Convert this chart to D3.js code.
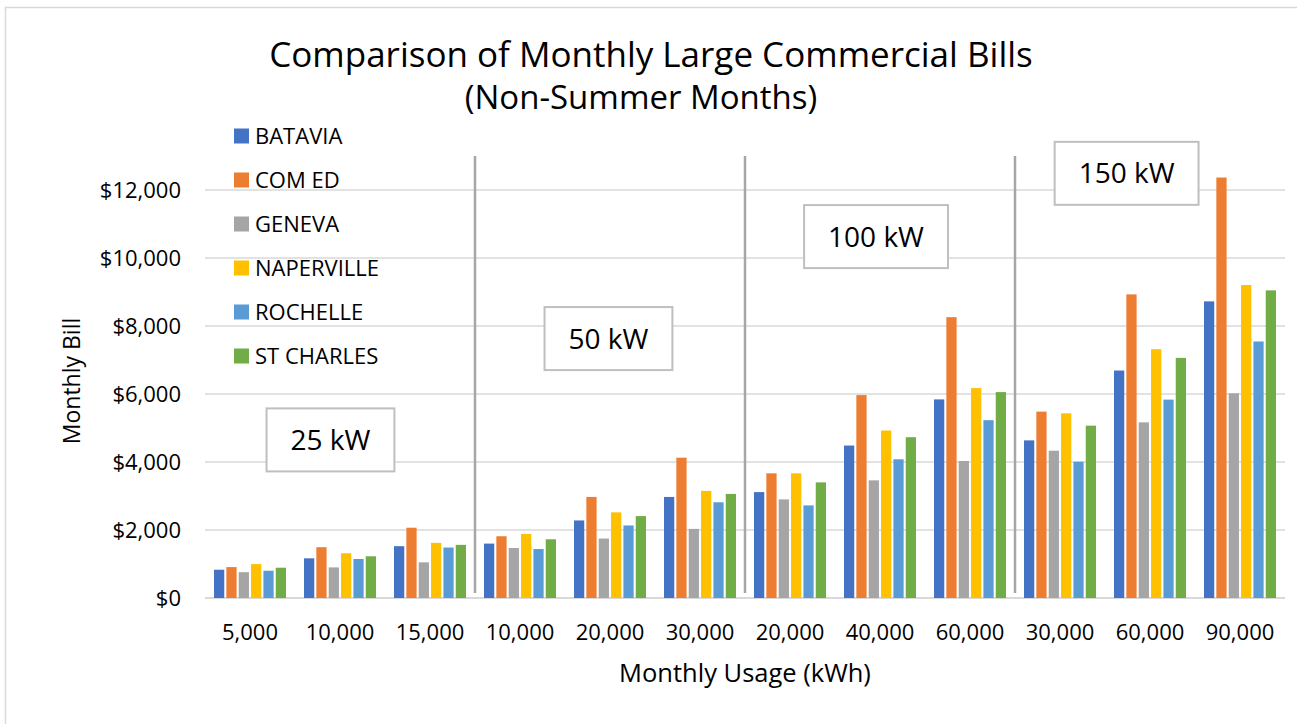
<!DOCTYPE html>
<html>
<head>
<meta charset="utf-8">
<script src="https://cdn.jsdelivr.net/npm/d3@7"></script>
<style>
  body { margin: 0; background: #fff; }
  svg { display: block; font-family: "Open Sans", sans-serif; }
</style>
</head>
<body>
<script>
// usage categories (kWh), grouped by demand
var usage = ["5,000", "10,000", "15,000", "10,000", "20,000", "30,000",
	"20,000", "40,000", "60,000", "30,000", "60,000", "90,000"];
var utilities = ["BATAVIA", "COM ED", "GENEVA", "NAPERVILLE", "ROCHELLE", "ST CHARLES"];
var colors = ["#4472C4", "#ED7D31", "#A5A5A5", "#FFC000", "#5B9BD5", "#70AD47"];

// monthly bill ($) per utility, one value per usage category
var batavia = [832, 1167, 1524, 1600, 2281, 2972, 3115, 4484, 5841, 4636, 6690, 8724];
var comEd = [909, 1494, 2067, 1816, 2972, 4127, 3667, 5968, 8260, 5482, 8930, 12367];
var geneva = [760, 900, 1049, 1470, 1748, 2033, 2900, 3460, 4030, 4332, 5166, 6021];
var naperville = [998, 1316, 1622, 1884, 2519, 3150, 3667, 4926, 6174, 5432, 7318, 9204];
var rochelle = [802, 1147, 1485, 1440, 2133, 2815, 2723, 4080, 5230, 4008, 5835, 7545];
var stCharles = [891, 1227, 1563, 1727, 2409, 3061, 3401, 4729, 6056, 5069, 7062, 9048];
var series = [batavia, comEd, geneva, naperville, rochelle, stCharles];

var yTicks = [0, 2000, 4000, 6000, 8000, 10000, 12000];
// group separators sit between these category indices
var separators = [3, 6, 9];
// demand labels: centre given as (category position, dollar value)
var demandLabels = [
	{ label: "25 kW", pos: 1.394, value: 4650 },
	{ label: "50 kW", pos: 4.483, value: 7630 },
	{ label: "100 kW", pos: 7.456, value: 10630 },
	{ label: "150 kW", pos: 10.24, value: 12490 }
];

var W = 1297, H = 724;
var margin = { top: 190, right: 12, bottom: 126, left: 205 };
var plotW = W - margin.left - margin.right,
	plotH = H - margin.top - margin.bottom;

var svg = d3.select("body").append("svg")
	.attr("width", W)
	.attr("height", H);

// chart border (only top & left are inside the picture)
svg.append("rect")
	.attr("x", 5.5).attr("y", 7.5)
	.attr("width", W + 20).attr("height", H + 20)
	.attr("fill", "none")
	.attr("stroke", "#d9d9d9")
	.attr("stroke-width", 1.5);

var g = svg.append("g")
	.attr("transform", "translate(" + margin.left + "," + margin.top + ")");

var x0 = d3.scaleBand()
	.domain(d3.range(usage.length))
	.range([0, plotW])
	.paddingInner(0.2)
	.paddingOuter(0.1);

var x1 = d3.scaleBand()
	.domain(d3.range(utilities.length))
	.range([0, x0.bandwidth()])
	.paddingInner(0.17);

var xPos = d3.scaleLinear().domain([0, usage.length]).range([0, plotW]);

var y = d3.scaleLinear().domain([0, 12000]).range([plotH, 0]);

// gridlines
g.selectAll(".grid")
	.data(yTicks)
	.enter().append("line")
	.attr("class", "grid")
	.attr("x1", 0).attr("x2", plotW)
	.attr("y1", function (d) { return y(d); })
	.attr("y2", function (d) { return y(d); })
	.attr("stroke", "#d9d9d9")
	.attr("stroke-width", function (d) { return d === 0 ? 2 : 1.5; });

// y axis labels
var yAxis = g.append("g")
	.call(d3.axisLeft(y)
		.tickValues(yTicks)
		.tickSize(0)
		.tickPadding(24)
		.tickFormat(function (d) { return "$" + d3.format(",")(d); }));
yAxis.select(".domain").remove();
yAxis.selectAll("text")
	.attr("font-size", 22)
	.attr("font-family", "Open Sans, sans-serif")
	.attr("fill", "#000");

// x axis labels
var xAxis = g.append("g")
	.attr("transform", "translate(0," + plotH + ")")
	.call(d3.axisBottom(x0)
		.tickSize(0)
		.tickPadding(26)
		.tickFormat(function (i) { return usage[i]; }));
xAxis.select(".domain").remove();
xAxis.selectAll("text")
	.attr("font-size", 22)
	.attr("font-family", "Open Sans, sans-serif")
	.attr("fill", "#000");

// bars
var groups = g.selectAll(".group")
	.data(usage)
	.enter().append("g")
	.attr("class", "group")
	.attr("transform", function (d, i) { return "translate(" + x0(i) + ",0)"; });

groups.selectAll("rect")
	.data(function (d, i) { return series.map(function (s, k) { return { k: k, v: s[i] }; }); })
	.enter().append("rect")
	.attr("x", function (d) { return x1(d.k); })
	.attr("width", x1.bandwidth())
	.attr("y", function (d) { return y(d.v); })
	.attr("height", function (d) { return plotH - y(d.v); })
	.attr("fill", function (d) { return colors[d.k]; });

// separators between demand groups
g.selectAll(".sep")
	.data(separators)
	.enter().append("line")
	.attr("class", "sep")
	.attr("x1", function (d) { return xPos(d); })
	.attr("x2", function (d) { return xPos(d); })
	.attr("y1", y(13000))
	.attr("y2", plotH - 5)
	.attr("stroke", "#a6a6a6")
	.attr("stroke-width", 2.5);

// demand label boxes
var boxes = g.selectAll(".demand")
	.data(demandLabels)
	.enter().append("g")
	.attr("class", "demand")
	.attr("transform", function (d) { return "translate(" + xPos(d.pos) + "," + y(d.value) + ")"; });

boxes.append("text")
	.attr("text-anchor", "middle")
	.attr("dy", "0.36em")
	.attr("font-size", 28)
	.text(function (d) { return d.label; });

boxes.insert("rect", "text")
	.attr("fill", "#fff")
	.attr("stroke", "#bfbfbf")
	.attr("stroke-width", 2)
	.each(function () {
		var t = d3.select(this.parentNode).select("text").node();
		var w = t.getComputedTextLength() + 48;
		d3.select(this)
			.attr("x", -w / 2).attr("y", -31.5)
			.attr("width", w).attr("height", 63);
	});

// legend
var legend = svg.append("g")
	.attr("transform", "translate(234,136)");

var item = legend.selectAll(".item")
	.data(utilities)
	.enter().append("g")
	.attr("class", "item")
	.attr("transform", function (d, i) { return "translate(0," + (i * 44) + ")"; });

item.append("rect")
	.attr("x", 0).attr("y", -7.5)
	.attr("width", 15).attr("height", 15)
	.attr("fill", function (d, i) { return colors[i]; });

item.append("text")
	.attr("x", 21)
	.attr("dy", "0.36em")
	.attr("font-size", 22)
	.text(function (d) { return d; });

// titles
svg.append("text")
	.attr("x", 651).attr("y", 67)
	.attr("text-anchor", "middle")
	.attr("font-size", 35)
	.text("Comparison of Monthly Large Commercial Bills");

svg.append("text")
	.attr("x", 641).attr("y", 109)
	.attr("text-anchor", "middle")
	.attr("font-size", 33)
	.text("(Non-Summer Months)");

svg.append("text")
	.attr("x", 745).attr("y", 682)
	.attr("text-anchor", "middle")
	.attr("font-size", 25.5)
	.text("Monthly Usage (kWh)");

svg.append("text")
	.attr("transform", "translate(80,381) rotate(-90)")
	.attr("text-anchor", "middle")
	.attr("font-size", 23)
	.text("Monthly Bill");
</script>
</body>
</html>
